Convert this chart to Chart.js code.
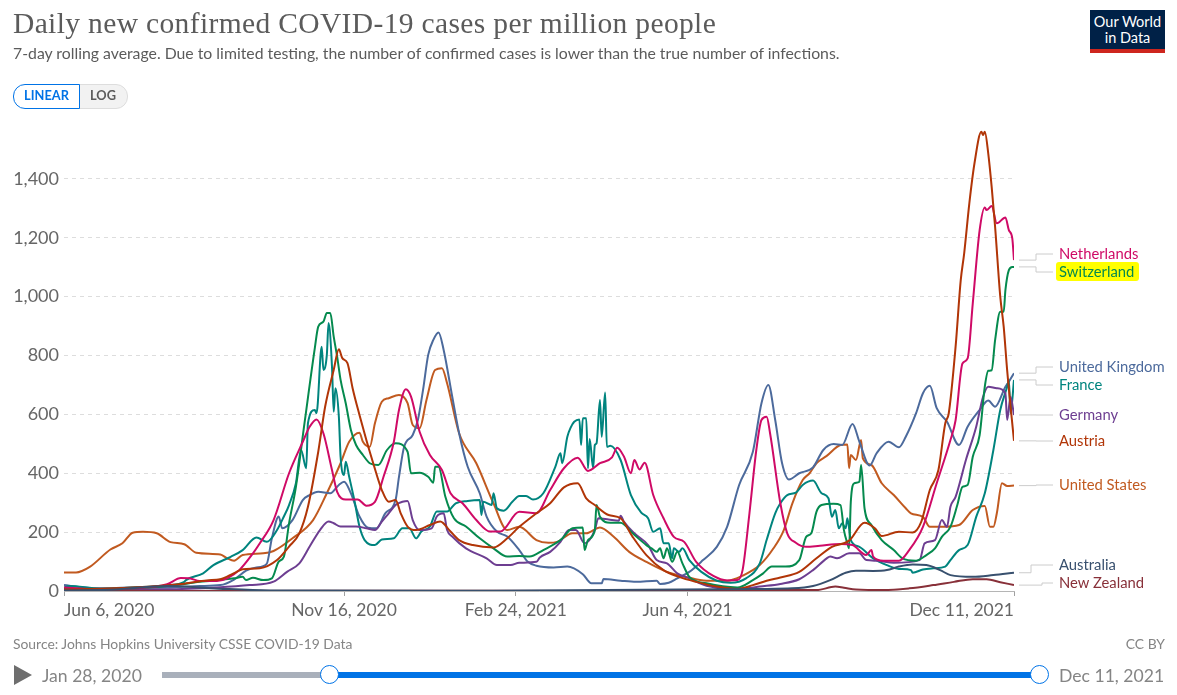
<!DOCTYPE html>
<html>
<head>
<meta charset="utf-8">
<title>Daily new confirmed COVID-19 cases per million people</title>
<script src="https://cdn.jsdelivr.net/npm/chart.js@4"></script>
<style>
  html, body { margin: 0; padding: 0; background: #fff; overflow: hidden; }
  #page { position: relative; width: 1177px; height: 695px; font-family: Lato, sans-serif; color: #5b5b5b; }
  #page div, #page span { position: absolute; white-space: nowrap; }
  canvas { position: absolute; left: 0; top: 0; }
  #title { left: 13px; top: 7px; font: 29.5px "Liberation Serif", serif; color: #5b5b5b; letter-spacing: 0.36px; }
  #subtitle { left: 13px; top: 43px; font-size: 15.8px; color: #5b5b5b; }
  #logo { left: 1090px; top: 10px; width: 75px; height: 39px; background: #002147; border-bottom: 4px solid #ce261e; color: #fff; text-align: center; font-size: 14.5px; line-height: 16px; padding-top: 0; }
  #logo span { left: 0; width: 75px; }
  #btnLinear { left: 13px; top: 84px; width: 65px; height: 23px; border: 1px solid #0073e6; border-radius: 12px 0 0 12px; box-sizing: content-box; color: #0073e6; font-size: 12.8px; font-weight: 700; line-height: 21px; text-align: center; background: #fff; z-index: 2; }
  #btnLog { left: 78px; top: 84px; width: 48px; height: 23px; border: 1px solid #ddd; border-radius: 0 12px 12px 0; color: #5b5b5b; background: #f2f2f2; font-size: 12.8px; font-weight: 700; line-height: 21px; text-align: center; }
  .lab { font-size: 14.8px; line-height: 18px; left: 1059px; }
  #hl { left: 1056px; top: 262px; width: 83px; height: 19px; background: #ffff00; border-radius: 3px; }
  #source { left: 13px; top: 635px; font-size: 13.9px; color: #858585; }
  #ccby { right: 12px; top: 635px; font-size: 13.9px; color: #858585; }
  #play { left: 14px; top: 665px; width: 0; height: 0; border-left: 18px solid #6e6e6e; border-top: 10px solid transparent; border-bottom: 10px solid transparent; }
  .date { top: 665px; font-size: 17.6px; color: #858585; }
  #trackA { left: 162px; top: 672px; width: 167px; height: 6px; background: #a9b0bb; }
  #trackB { left: 329px; top: 672px; width: 710px; height: 6px; background: #0073e6; }
  .knob { top: 665px; width: 17px; height: 17px; margin-left: -9px; background: #fff; border: 1px solid #0073e6; border-radius: 50%; }
</style>
</head>
<body>
<div id="page">
  <canvas id="myChart" width="1177" height="695"></canvas>
  <div id="title">Daily new confirmed COVID-19 cases per million people</div>
  <div id="subtitle">7-day rolling average. Due to limited testing, the number of confirmed cases is lower than the true number of infections.</div>
  <div id="logo"><span style="top:4px">Our World</span><span style="top:20px">in Data</span></div>
  <div id="btnLinear">LINEAR</div>
  <div id="btnLog">LOG</div>
  <div id="hl"></div>
  <div id="labels"></div>
  <div id="source">Source: Johns Hopkins University CSSE COVID-19 Data</div>
  <div id="ccby">CC BY</div>
  <div id="play"></div>
  <div class="date" style="left:42px">Jan 28, 2020</div>
  <div id="trackA"></div>
  <div id="trackB"></div>
  <div class="knob" style="left:329px"></div>
  <div class="knob" style="left:1039px"></div>
  <div class="date" style="left:1059px">Dec 11, 2021</div>
</div>
<script>
// x values are days since Jun 6, 2020, y values are cases per million
var tickDays = [0, 163, 263, 363, 553];
var tickLabels = ['Jun 6, 2020', 'Nov 16, 2020', 'Feb 24, 2021', 'Jun 4, 2021', 'Dec 11, 2021'];
var yTicks = [0, 200, 400, 600, 800, 1000, 1200, 1400];

var unitedStates = [[0,63],[7,63],[15,82],[27,141],[34,162],[40,198],[46,201],[54,196],[62,166],[70,159],[77,130],[91,124],[95,111],[99,103],[104,122],[116,128],[122,136],[133,179],[145,241],[153,332],[161,434],[166,507],[172,538],[174,507],[178,490],[181,570],[185,643],[189,655],[195,666],[200,638],[203,564],[207,553],[211,649],[216,751],[220,757],[223,706],[230,536],[240,434],[250,298],[258,207],[265,218],[275,173],[282,164],[287,167],[296,196],[304,196],[312,216],[320,184],[329,133],[339,99],[351,65],[362,48],[374,35],[386,35],[395,52],[405,88],[413,145],[419,207],[424,298],[430,377],[434,400],[438,434],[444,459],[452,496],[456,498],[457,417],[458,462],[461,445],[464,513],[465,451],[470,428],[476,366],[483,326],[490,281],[493,264],[500,252],[504,218],[512,218],[521,224],[529,275],[536,289],[539,218],[541,218],[543,264],[546,366],[549,357],[553,358]];
var netherlands = [[0,12],[21,6],[40,9],[60,23],[68,44],[73,43],[79,34],[89,34],[95,43],[102,71],[110,128],[114,162],[122,241],[131,400],[139,507],[143,558],[147,583],[151,536],[156,411],[159,337],[164,311],[171,311],[176,290],[181,303],[186,388],[192,507],[195,615],[199,685],[202,660],[207,541],[213,462],[220,411],[225,332],[232,298],[240,241],[248,202],[254,202],[265,269],[275,264],[283,343],[291,417],[299,453],[305,408],[312,434],[319,454],[322,487],[326,456],[330,400],[332,445],[335,413],[338,436],[343,326],[349,247],[355,184],[361,167],[368,99],[378,51],[386,36],[392,37],[395,71],[399,264],[403,479],[406,581],[409,592],[411,536],[417,298],[421,196],[426,164],[432,150],[440,154],[452,160],[459,156],[467,122],[470,139],[471,117],[477,103],[486,103],[492,139],[500,218],[508,366],[516,513],[519,580],[523,773],[526,790],[529,977],[533,1226],[536,1303],[537,1294],[540,1308],[543,1249],[548,1269],[550,1226],[552,1198],[553,1124]];
var switzerland = [[0,9],[21,6],[60,17],[79,31],[99,43],[104,48],[106,37],[110,45],[116,37],[121,43],[125,100],[128,117],[131,230],[135,354],[140,570],[146,825],[148,898],[151,915],[153,944],[155,944],[157,864],[159,796],[161,717],[164,638],[167,547],[170,496],[174,462],[178,434],[183,428],[188,479],[193,502],[200,473],[202,400],[207,402],[212,388],[215,368],[216,422],[218,422],[222,320],[227,247],[234,219],[242,179],[250,145],[258,117],[265,119],[271,117],[279,139],[289,173],[296,213],[302,216],[303,139],[305,173],[309,207],[310,292],[312,252],[318,232],[324,232],[331,196],[339,156],[342,145],[345,133],[347,145],[349,111],[351,145],[354,99],[357,133],[360,94],[364,48],[374,26],[392,12],[401,37],[407,60],[412,83],[415,83],[420,83],[428,105],[432,184],[435,196],[438,269],[441,292],[448,296],[452,292],[454,207],[456,162],[457,145],[458,303],[460,366],[463,371],[464,428],[466,281],[470,224],[476,173],[483,139],[488,111],[496,103],[502,122],[507,145],[511,184],[516,218],[520,292],[523,354],[526,360],[529,456],[533,530],[536,694],[538,748],[540,750],[542,852],[545,949],[547,949],[548,1022],[550,1090],[552,1101],[553,1101]];
var france = [[0,12],[3,17],[21,8],[40,12],[60,19],[70,31],[71,37],[81,60],[87,88],[97,116],[104,139],[112,182],[118,167],[124,207],[128,253],[131,292],[135,366],[138,479],[141,417],[142,570],[146,615],[147,604],[150,830],[151,751],[153,802],[154,910],[156,762],[157,609],[158,689],[160,592],[161,456],[163,394],[164,439],[166,388],[169,309],[172,219],[175,173],[181,156],[185,175],[192,179],[197,213],[201,213],[205,179],[208,202],[213,219],[217,270],[223,270],[228,298],[235,306],[242,309],[243,258],[244,303],[249,292],[250,332],[252,281],[256,273],[261,303],[265,323],[269,323],[273,311],[279,332],[286,422],[289,468],[290,434],[293,524],[295,556],[297,575],[300,583],[301,496],[302,587],[304,587],[305,417],[306,516],[308,417],[309,496],[310,502],[312,649],[313,524],[315,674],[316,490],[318,493],[324,445],[330,326],[336,266],[340,247],[343,201],[347,213],[349,162],[352,162],[354,111],[355,145],[358,133],[360,145],[364,105],[371,65],[380,35],[388,28],[397,43],[405,94],[409,173],[414,264],[417,298],[421,326],[426,334],[430,360],[436,375],[441,332],[445,315],[447,252],[449,275],[451,213],[453,230],[455,213],[456,247],[458,173],[463,150],[471,111],[479,88],[486,75],[493,71],[494,62],[500,73],[506,77],[513,83],[516,105],[521,139],[526,156],[531,252],[536,332],[541,479],[545,615],[549,694],[550,717],[551,604],[553,717]];
var unitedKingdom = [[0,20],[12,12],[21,9],[40,12],[60,12],[79,17],[91,20],[99,39],[106,69],[112,80],[118,92],[121,179],[125,253],[127,213],[133,241],[139,309],[143,326],[148,337],[155,332],[160,360],[163,371],[167,332],[172,253],[177,215],[182,213],[187,264],[193,309],[195,388],[198,490],[203,530],[206,581],[209,683],[212,802],[215,853],[218,878],[221,819],[226,660],[230,536],[235,422],[242,332],[246,253],[252,202],[258,185],[265,139],[270,99],[275,86],[285,80],[293,83],[302,57],[307,26],[313,26],[314,41],[324,35],[333,31],[345,35],[347,24],[352,28],[357,43],[364,65],[372,105],[380,150],[386,218],[393,360],[401,473],[406,638],[410,700],[414,581],[418,434],[422,379],[428,400],[436,420],[442,479],[448,499],[453,496],[459,567],[463,507],[469,426],[473,468],[480,507],[486,488],[490,524],[496,604],[500,672],[504,697],[508,621],[514,575],[521,496],[526,558],[533,615],[538,647],[542,626],[548,694],[550,711],[553,740]];
var germany = [[0,9],[21,6],[60,6],[89,12],[108,20],[122,32],[130,66],[137,94],[143,151],[149,207],[154,236],[157,230],[161,219],[170,219],[176,213],[181,207],[185,236],[189,264],[193,292],[197,303],[200,306],[203,241],[207,207],[214,213],[217,253],[221,264],[223,207],[226,185],[234,145],[246,111],[252,88],[260,88],[265,96],[275,99],[277,114],[283,133],[289,167],[294,207],[298,207],[303,162],[309,207],[311,247],[317,243],[323,239],[324,256],[326,235],[332,196],[340,156],[345,105],[351,94],[357,60],[364,43],[374,18],[386,9],[397,9],[405,15],[417,24],[428,40],[436,71],[444,111],[446,117],[450,111],[457,128],[463,128],[467,105],[473,103],[483,96],[498,105],[501,162],[507,173],[511,241],[514,218],[516,286],[519,320],[525,445],[531,558],[535,660],[538,694],[543,689],[548,672],[549,581],[551,660],[553,598]];
var austria = [[0,5],[40,12],[70,25],[83,36],[91,40],[99,61],[104,74],[114,77],[124,105],[131,151],[137,196],[142,286],[148,473],[152,626],[157,751],[160,821],[162,791],[165,774],[168,689],[172,598],[176,513],[180,434],[185,343],[189,303],[193,309],[196,264],[200,219],[205,207],[213,224],[219,236],[225,202],[230,173],[238,156],[250,148],[258,179],[265,218],[275,264],[283,298],[291,352],[299,366],[304,315],[309,292],[317,258],[324,247],[331,184],[339,122],[349,71],[358,48],[368,31],[380,15],[392,7],[401,20],[409,35],[417,46],[428,65],[438,111],[447,150],[457,171],[466,232],[472,213],[476,187],[486,201],[494,199],[499,235],[504,343],[509,411],[513,570],[515,603],[519,830],[522,1056],[524,1147],[527,1317],[530,1453],[534,1560],[535,1549],[536,1560],[538,1487],[540,1373],[542,1237],[545,1000],[547,898],[549,751],[553,510]];
var australia = [[0,2],[30,5],[60,17],[90,8],[120,2],[250,1],[405,7],[424,9],[436,17],[446,37],[455,62],[461,69],[471,68],[479,71],[486,83],[494,90],[502,88],[510,71],[516,54],[529,48],[541,54],[553,62]];
var newZealand = [[0,1],[100,0],[200,1],[300,0],[405,3],[438,3],[449,15],[454,11],[461,5],[477,3],[492,9],[506,20],[518,31],[529,40],[537,40],[545,30],[553,20]];

var countries = ['Australia', 'New Zealand', 'Austria', 'Netherlands', 'Switzerland', 'Germany', 'France', 'United Kingdom', 'United States'];
var countrySeries = [australia, newZealand, austria, netherlands, switzerland, germany, france, unitedKingdom, unitedStates];
var countryColors = ['#38506e', '#883039', '#b13507', '#cf0a66', '#058a4e', '#6d3e91', '#00847e', '#4c6a9c', '#c15a20'];

// where each end label sits on the page, and where its connector bends
var labelY = [565, 583, 441, 254, 272, 415, 385, 367, 485];
var bendX = [1031, 1042, 1036, 1036, 1036, 1036, 1036, 1036, 1036];

var labelBox = document.getElementById('labels');
countries.forEach(function (name, i) {
  var el = document.createElement('div');
  el.className = 'lab';
  el.style.top = (labelY[i] - 10) + 'px';
  el.style.color = countryColors[i];
  el.textContent = name;
  labelBox.appendChild(el);
});

// little grey lines between line ends and labels
var connectors = {
  id: 'connectors',
  afterDatasetsDraw: function (chart) {
    var c = chart.ctx, yScale = chart.scales.y;
    c.save();
    c.strokeStyle = '#ccc';
    c.lineWidth = 1;
    countrySeries.forEach(function (s, i) {
      var y0 = yScale.getPixelForValue(s[s.length - 1][1]);
      c.beginPath();
      c.moveTo(1019, y0);
      c.lineTo(bendX[i], y0);
      c.lineTo(bendX[i], labelY[i]);
      c.lineTo(1053, labelY[i]);
      c.stroke();
    });
    c.restore();
  }
};

var ctx = document.getElementById('myChart').getContext('2d');
var myChart = new Chart(ctx, {
  type: 'line',
  data: {
    datasets: countries.map(function (name, i) {
      return {
        label: name,
        data: countrySeries[i].map(function (p) { return { x: p[0], y: p[1] }; }),
        borderColor: countryColors[i],
        borderWidth: 2,
        pointRadius: 0,
        cubicInterpolationMode: 'monotone',
        fill: false
      };
    })
  },
  options: {
    responsive: false,
    animation: false,
    layout: { padding: { top: 120, right: 163, left: 0, bottom: 0 } },
    plugins: { legend: { display: false }, tooltip: { enabled: false } },
    scales: {
      x: {
        type: 'linear',
        min: 0,
        max: 553,
        afterBuildTicks: function (scale) {
          scale.ticks = tickDays.map(function (d) { return { value: d }; });
        },
        afterFit: function (scale) { scale.height = 104; },
        border: { display: true, color: '#b5b5b5', width: 1 },
        grid: { drawOnChartArea: false, drawTicks: true, tickLength: 5, color: '#a0a0a0' },
        ticks: {
          autoSkip: false,
          maxRotation: 0,
          align: 'inner',
          padding: 4,
          color: '#666',
          font: { family: 'Lato', size: 17.5 },
          callback: function (v) { return tickLabels[tickDays.indexOf(v)]; }
        }
      },
      y: {
        min: 0,
        max: 1600,
        afterBuildTicks: function (scale) {
          scale.ticks = yTicks.map(function (v) { return { value: v }; });
        },
        afterFit: function (scale) { scale.width = 64; },
        border: { display: false, dash: [4, 4] },
        grid: { color: '#ddd', drawTicks: false },
        ticks: {
          padding: 5,
          color: '#666',
          font: { family: 'Lato', size: 18 },
          callback: function (v) { return v.toLocaleString('en-US'); }
        }
      }
    }
  },
  plugins: [connectors]
});
</script>
</body>
</html>
